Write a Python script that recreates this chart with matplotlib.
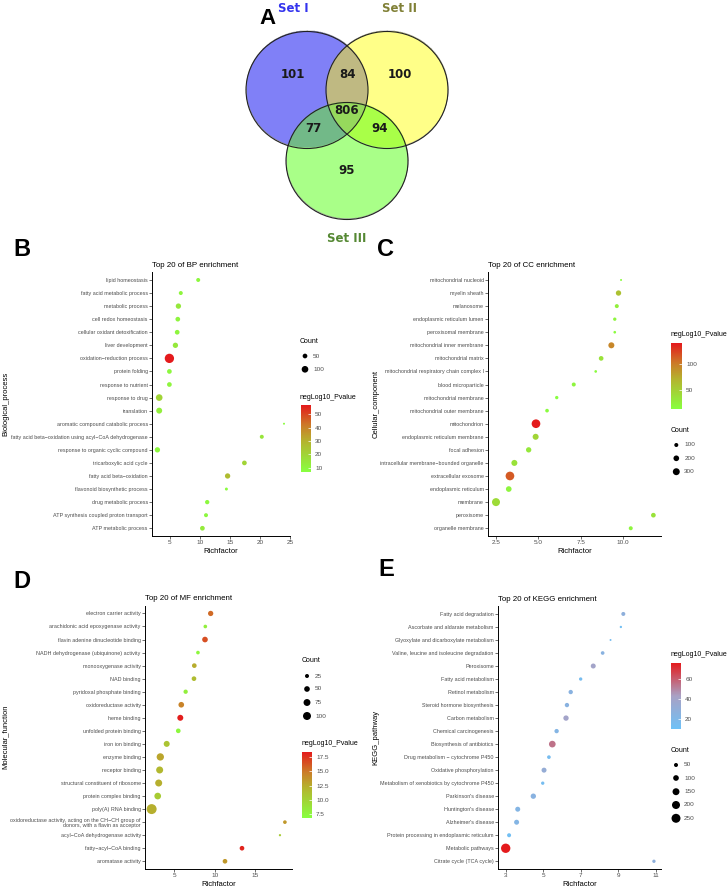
import numpy as np
import matplotlib
matplotlib.use("Agg")
from matplotlib import pyplot as plt
from matplotlib import font_manager
from matplotlib.colors import LinearSegmentedColormap, Normalize, to_rgba
from matplotlib.patches import Ellipse
from matplotlib.cm import ScalarMappable

names = {f.name for f in font_manager.fontManager.ttflist}
narrow = "Liberation Sans Narrow" in names
plt.rcParams["font.family"] = (["Liberation Sans Narrow"] if narrow else []) + ["Liberation Sans", "DejaVu Sans"]
fs_y = 4.3 if narrow else 3.85
fs_t = 6.3 if narrow else 5.7
fs_l = 5.6 if narrow else 5.0

W, H = 727, 890

# ---------------- data ----------------
venn_values = [101, 100, 95, 84, 77, 94, 806]   # I, II, III, I&II, I&III, II&III, all
set_names = ["Set I", "Set II", "Set III"]

bp_terms = ["lipid homeostasis", "fatty acid metabolic process", "metabolic process",
            "cell redox homeostasis", "cellular oxidant detoxification", "liver development",
            "oxidation\u2212reduction process", "protein folding", "response to nutrient",
            "response to drug", "translation", "aromatic compound catabolic process",
            "fatty acid beta\u2212oxidation using acyl\u2212CoA dehydrogenase",
            "response to organic cyclic compound", "tricarboxylic acid cycle",
            "fatty acid beta\u2212oxidation", "flavonoid biosynthetic process",
            "drug metabolic process", "ATP synthesis coupled proton transport",
            "ATP metabolic process"]
bp_rich = [9.7, 6.8, 6.4, 6.3, 6.2, 5.9, 4.9, 4.9, 4.9, 3.2, 3.2, 24.0, 20.3, 2.9,
           17.4, 14.6, 14.4, 11.2, 11.0, 10.4]
bp_count = [36, 36, 64, 50, 50, 64, 196, 50, 50, 100, 80, 9, 36, 64, 50, 64, 20, 42, 36, 50]
bp_p = [9, 10, 14, 10, 10, 14, 57, 9, 10, 20, 12, 8, 15, 9, 20, 27, 8, 9, 9, 13]

cc_terms = ["mitochondrial nucleoid", "myelin sheath", "melanosome",
            "endoplasmic reticulum lumen", "peroxisomal membrane",
            "mitochondrial inner membrane", "mitochondrial matrix",
            "mitochondrial respiratory chain complex I", "blood microparticle",
            "mitochondrial membrane", "mitochondrial outer membrane", "mitochondrion",
            "endoplasmic reticulum membrane", "focal adhesion",
            "intracellular membrane\u2212bounded organelle", "extracellular exosome",
            "endoplasmic reticulum", "membrane", "peroxisome", "organelle membrane"]
cc_rich = [9.87, 9.72, 9.62, 9.5, 9.5, 9.3, 8.7, 8.38, 7.09, 6.09, 5.52, 4.87, 4.85,
           4.44, 3.6, 3.34, 3.27, 2.52, 11.77, 10.44]
cc_count = [25, 178, 100, 70, 45, 225, 136, 45, 100, 70, 84, 470, 225, 178, 225, 470,
            200, 400, 136, 100]
cc_p = [15, 60, 25, 20, 15, 95, 35, 15, 20, 13, 15, 140, 45, 30, 35, 115, 20, 40, 35, 20]

mf_terms = ["electron carrier activity", "arachidonic acid epoxygenase activity",
            "flavin adenine dinucleotide binding",
            "NADH dehydrogenase (ubiquinone) activity", "monooxygenase activity",
            "NAD binding", "pyridoxal phosphate binding", "oxidoreductase activity",
            "heme binding", "unfolded protein binding", "iron ion binding",
            "enzyme binding", "receptor binding", "structural constituent of ribosome",
            "protein complex binding", "poly(A) RNA binding",
            "oxidoreductase activity, acting on the CH\u2212CH group of\ndonors, with a flavin as acceptor",
            "acyl\u2212CoA dehydrogenase activity", "fatty\u2212acyl\u2212CoA binding",
            "aromatase activity"]
mf_rich = [9.49, 8.83, 8.79, 7.92, 7.47, 7.43, 6.4, 5.86, 5.74, 5.49, 4.06, 3.27, 3.19,
           3.07, 2.95, 2.2, 18.66, 18.05, 13.36, 11.26]
mf_count = [44, 21, 50, 21, 34, 34, 29, 50, 56, 34, 56, 84, 77, 77, 70, 156, 21, 8, 34, 34]
mf_p = [15.5, 8, 16.5, 7.5, 12.5, 11.5, 8, 14.5, 18.3, 7.5, 11, 12.8, 11.8, 12.3, 10.5,
        12.3, 13.5, 10.5, 18, 13.5]

kegg_terms = ["Fatty acid degradation", "Ascorbate and aldarate metabolism",
              "Glyoxylate and dicarboxylate metabolism",
              "Valine, leucine and isoleucine degradation", "Peroxisome",
              "Fatty acid metabolism", "Retinol metabolism", "Steroid hormone biosynthesis",
              "Carbon metabolism", "Chemical carcinogenesis", "Biosynthesis of antibiotics",
              "Drug metabolism \u2212 cytochrome P450", "Oxidative phosphorylation",
              "Metabolism of xenobiotics by cytochrome P450", "Parkinson's disease",
              "Huntington's disease", "Alzheimer's disease",
              "Protein processing in endoplasmic reticulum", "Metabolic pathways",
              "Citrate cycle (TCA cycle)"]
kegg_rich = [9.26, 9.13, 8.58, 8.16, 7.66, 6.99, 6.46, 6.26, 6.21, 5.71, 5.48, 5.3, 5.04,
             4.97, 4.47, 3.64, 3.58, 3.18, 3.0, 10.89]
kegg_count = [50, 17, 12, 42, 78, 35, 59, 59, 89, 59, 139, 42, 78, 35, 89, 78, 78, 50, 272, 35]
kegg_p = [28, 12, 15, 25, 40, 15, 25, 25, 40, 22, 55, 15, 32, 14, 25, 22, 22, 12, 77, 28]

# ---------------- helpers ----------------
gr_cmap = LinearSegmentedColormap.from_list(
    "gr", [(0, "#88FF40"), (0.45, "#B4B42E"), (0.7, "#CC7A28"), (1, "#E41A1C")])
br_cmap = LinearSegmentedColormap.from_list(
    "br", [(0, "#6EC1F7"), (0.5, "#A9A1C4"), (1, "#E41A1C")])

fig = plt.figure(figsize=(W / 100, H / 100), dpi=100)
fig.patch.set_facecolor("white")

# overlay axes in pixel units (venn + legends)
ov = fig.add_axes([0, 0, 1, 1])
ov.set_xlim(0, W)
ov.set_ylim(H, 0)
ov.axis("off")
ov.patch.set_alpha(0)


def rect(l, t, r, b):
    return [l / W, 1 - b / H, (r - l) / W, (b - t) / H]


def panel(box, terms, rich, count, pval, cmap, vmin, vmax, k, xlim, xticks, xtl,
          title, ylab, ylab_x, xlab_y, letter, letter_xy):
    ax = fig.add_axes(rect(*box))
    ax.patch.set_alpha(0)
    n = len(terms)
    ax.scatter(rich, range(n), s=np.array(count) * k, c=pval, cmap=cmap,
               vmin=vmin, vmax=vmax, edgecolors="none", zorder=3)
    ax.set_yticks(range(n))
    ax.set_yticklabels(terms, fontsize=fs_y, color="#4D4D4D")
    ax.set_ylim(n - 0.43, -0.61)
    ax.set_xlim(*xlim)
    ax.set_xticks(xticks)
    ax.set_xticklabels(xtl, fontsize=4.6, color="#4D4D4D")
    for s in ["top", "right"]:
        ax.spines[s].set_visible(False)
    for s in ["left", "bottom"]:
        ax.spines[s].set_linewidth(0.7)
    ax.tick_params(length=2, width=0.5, color="#333333", pad=1)
    ax.text(0, 1.012, title, transform=ax.transAxes, fontsize=fs_t, ha="left", va="bottom")
    cx = (box[0] + box[2]) / 2
    ov.text(cx, xlab_y, "Richfactor", fontsize=fs_t - 0.2, ha="center", va="center")
    ov.text(ylab_x, (box[1] + box[3]) / 2, ylab, fontsize=fs_t - 0.2, rotation=90,
            ha="center", va="center")
    ov.text(letter_xy[0], letter_xy[1], letter, fontsize=17, fontweight="bold",
            ha="center", va="center", family="Liberation Sans")
    return ax


def colorbar(title_xy, bar, vmin, vmax, cmap, ticks, tl):
    ov.text(title_xy[0], title_xy[1], "negLog10_Pvalue", fontsize=fs_l, ha="left", va="center")
    cax = fig.add_axes(rect(*bar))
    cb = fig.colorbar(ScalarMappable(Normalize(vmin, vmax), cmap), cax=cax)
    cb.outline.set_visible(False)
    cb.set_ticks(ticks)
    cb.set_ticklabels(tl)
    cax.tick_params(labelsize=4.6, labelcolor="#4D4D4D", length=2, width=0.5,
                    color="white", direction="in", pad=3)


def size_legend(title_xy, dot_x, ys, breaks, k):
    ov.text(title_xy[0], title_xy[1], "Count", fontsize=fs_l, ha="left", va="center")
    ov.scatter([dot_x] * len(breaks), ys, s=np.array(breaks) * k, c="black",
               edgecolors="none")
    for y, b in zip(ys, breaks):
        ov.text(dot_x + 8, y, str(b), fontsize=4.6, color="#4D4D4D", ha="left", va="center")


# ---------------- Venn ----------------
centers = [(307, 90), (387, 90), (347, 161)]
ra, rb = 61, 58.5
xs = np.arange(230, 470, 0.5)
ys = np.arange(20, 230, 0.5)
X, Y = np.meshgrid(xs, ys)
inside = [((X - cx) / ra) ** 2 + ((Y - cy) / rb) ** 2 <= 1 for cx, cy in centers]
img = np.zeros(X.shape + (4,))
region_cols = {
    (1, 0, 0): "#8080F8", (0, 1, 0): "#FFFF88", (0, 0, 1): "#AAFF88",
    (1, 1, 0): "#C0BA82", (1, 0, 1): "#72BA88", (0, 1, 1): "#AAFF48",
    (1, 1, 1): "#96DA5C",
}
for key, col in region_cols.items():
    m = np.ones(X.shape, bool)
    for inn, kk in zip(inside, key):
        m &= inn if kk else ~inn
    img[m] = to_rgba(col)
ov.imshow(img, extent=(xs[0], xs[-1], ys[-1], ys[0]), origin="upper",
          interpolation="bilinear", aspect="auto", zorder=1)
for cx, cy in centers:
    ov.add_patch(Ellipse((cx, cy), 2 * ra, 2 * rb, fill=False, lw=0.8,
                         edgecolor="#222222", zorder=2))
ov.set_xlim(0, W)
ov.set_ylim(H, 0)
num_xy = [(293, 75), (400, 75), (347, 171), (347, 75), (313, 129), (380, 129), (347, 110)]
for (x, y), v in zip(num_xy, venn_values):
    ov.text(x, y, str(v), fontsize=8.5, fontweight="bold", ha="center", va="center",
            color="#1A1A1A", family="DejaVu Sans", zorder=3)
set_xy = [(293, 9), (400, 9), (347, 238)]
set_cols = ["#3333EE", "#808036", "#558833"]
for (x, y), nm, c in zip(set_xy, set_names, set_cols):
    ov.text(x, y, nm, fontsize=8.5, fontweight="bold", ha="center", va="center",
            color=c, family="DejaVu Sans")
ov.text(268, 18, "A", fontsize=16, fontweight="bold", ha="center", va="center",
        family="Liberation Sans")

# ---------------- panels ----------------
k_bp, k_cc, k_mf, k_kegg = 0.229, 0.083, 0.33, 0.166

panel((152, 272, 290, 535.7), bp_terms, bp_rich, bp_count, bp_p, gr_cmap, 7, 57, k_bp,
      (2, 25), [5, 10, 15, 20, 25], ["5", "10", "15", "20", "25"],
      "Top 20 of BP enrichment", "Biological_process", 6, 551.7, "B", (22, 250))
size_legend((300, 341.7), 305, [356, 369.3], [50, 100], k_bp)
colorbar((300, 397.3), (301, 405, 311, 471.7), 7, 57, gr_cmap,
         [10, 20, 30, 40, 50], ["10", "20", "30", "40", "50"])

panel((488, 272, 660.7, 535.7), cc_terms, cc_rich, cc_count, cc_p, gr_cmap, 12, 141, k_cc,
      (2.05, 12.2), [2.5, 5.0, 7.5, 10.0], ["2.5", "5.0", "7.5", "10.0"],
      "Top 20 of CC enrichment", "Cellular_component", 376, 551.7, "C", (386, 250))
colorbar((670.7, 335), (671, 343.3, 682, 409), 12, 141, gr_cmap, [50, 100], ["50", "100"])
size_legend((670.7, 430.7), 676.3, [445, 458.3, 471.7], [100, 200, 300], k_cc)

panel((145, 605.5, 291.7, 868.7), mf_terms, mf_rich, mf_count, mf_p, gr_cmap, 6.9, 18.4,
      k_mf, (1.38, 19.5), [5, 10, 15], ["5", "10", "15"],
      "Top 20 of MF enrichment", "Molecular_function", 5.5, 884.3, "D", (22, 581))
size_legend((302, 661), 307, [676, 689, 702.5, 716], [25, 50, 75, 100], k_mf)
colorbar((302, 743.3), (302, 751.7, 312, 817.7), 6.9, 18.4, gr_cmap,
         [7.5, 10, 12.5, 15, 17.5], ["7.5", "10.0", "12.5", "15.0", "17.5"])

panel((498, 606, 660.7, 868.7), kegg_terms, kegg_rich, kegg_count, kegg_p, br_cmap, 9.5, 77,
      k_kegg, (2.59, 11.25), [3, 5, 7, 9, 11], ["3", "5", "7", "9", "11"],
      "Top 20 of KEGG enrichment", "KEGG_pathway", 376, 885, "E", (386, 570))
colorbar((670.7, 655), (671, 662.7, 681, 729), 9.5, 77, br_cmap, [20, 40, 60],
         ["20", "40", "60"])
size_legend((670.7, 750), 676, [765, 778, 791.7, 805, 818.3], [50, 100, 150, 200, 250], k_kegg)

fig.savefig("out.png", dpi=100, facecolor="white")
